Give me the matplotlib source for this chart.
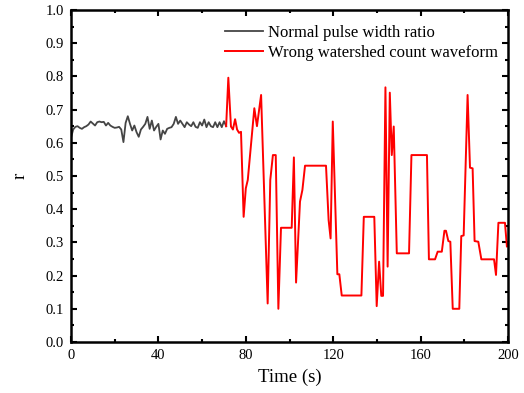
import matplotlib
matplotlib.use("Agg")
import matplotlib.pyplot as plt
from matplotlib.ticker import MultipleLocator, FormatStrFormatter

# normal pulse width ratio, one sample per second (0..71 s)
normal_t = list(range(0, 72))
normal_r = [0.615, 0.640, 0.648, 0.650, 0.645, 0.642, 0.647, 0.650, 0.655, 0.664,
            0.658, 0.652, 0.662, 0.664, 0.662, 0.663, 0.652, 0.660, 0.652, 0.648,
            0.645, 0.646, 0.648, 0.640, 0.602, 0.660, 0.680, 0.657, 0.637, 0.652,
            0.632, 0.618, 0.640, 0.648, 0.657, 0.678, 0.642, 0.667, 0.637, 0.648,
            0.657, 0.610, 0.637, 0.627, 0.642, 0.645, 0.647, 0.657, 0.678, 0.657,
            0.667, 0.657, 0.647, 0.662, 0.655, 0.650, 0.662, 0.648, 0.645, 0.662,
            0.652, 0.670, 0.647, 0.662, 0.650, 0.647, 0.662, 0.647, 0.662, 0.647,
            0.665, 0.650]

# wrong watershed count waveform
wrong_t = [71, 72, 73.2, 74.1, 75.1, 76, 76.9, 77.8, 79, 80, 80.9, 83.9, 85.1, 87,
           90, 91.2, 92.4, 93.7, 94.9, 96.1, 101, 102, 103, 104.8, 105.9, 107.1,
           116.7, 117.9, 118.8, 119.8, 121.9, 122.8, 123.9, 132.9, 134, 138.8,
           139.9, 141, 142, 142.8, 143.9, 144.9, 145.9, 146.8, 147.7, 149.1,
           154.7, 155.8, 162.9, 163.8, 166.6, 167.8, 169.7, 170.9, 171.6, 172.7,
           173.6, 174.7, 177.7, 178.6, 179.7, 181.5, 182.6, 183.8, 184.7, 186.4,
           187.8, 193.6, 194.5, 195.6, 198.6, 199.5, 200]
wrong_r = [0.650, 0.796, 0.649, 0.640, 0.671, 0.640, 0.630, 0.633, 0.377, 0.463,
           0.488, 0.704, 0.650, 0.744, 0.116, 0.488, 0.563, 0.563, 0.100, 0.344,
           0.344, 0.556, 0.179, 0.423, 0.458, 0.531, 0.531, 0.367, 0.312, 0.664,
           0.204, 0.204, 0.140, 0.140, 0.377, 0.377, 0.108, 0.242, 0.139, 0.139,
           0.767, 0.227, 0.751, 0.563, 0.649, 0.267, 0.267, 0.563, 0.563, 0.249,
           0.249, 0.272, 0.272, 0.335, 0.335, 0.304, 0.302, 0.100, 0.100, 0.319,
           0.321, 0.744, 0.525, 0.523, 0.304, 0.302, 0.249, 0.249, 0.202, 0.359,
           0.359, 0.287, 0.300]

plt.rcParams['font.family'] = ['Liberation Serif', 'DejaVu Serif']

fig = plt.figure(figsize=(5.24, 3.93), dpi=100)
ax = fig.add_axes([0.1355, 0.1298, 0.834, 0.8448])

ax.plot(normal_t, normal_r, color='#454545', lw=1.3, label='Normal pulse width ratio')
ax.plot(wrong_t, wrong_r, color='#ff0000', lw=1.4, label='Wrong watershed count waveform')

ax.set_xlim(0, 200)
ax.set_ylim(0, 1.0)
ax.xaxis.set_major_locator(MultipleLocator(40))
ax.xaxis.set_minor_locator(MultipleLocator(20))
ax.yaxis.set_major_locator(MultipleLocator(0.1))
ax.yaxis.set_minor_locator(MultipleLocator(0.05))
ax.yaxis.set_major_formatter(FormatStrFormatter('%.1f'))

ax.tick_params(which='both', direction='in', top=True, right=True, width=1.5,
               labelsize=10.5)
ax.tick_params(which='major', length=4.5, pad=5)
ax.tick_params(which='minor', length=2.5)
for sp in ax.spines.values():
    sp.set_linewidth(1.8)

ax.set_xlabel('Time (s)', fontsize=13.5, labelpad=5)
ax.set_ylabel('r', fontsize=13.5, labelpad=12)

ax.legend(loc='upper right', bbox_to_anchor=(1.012, 1.0), frameon=False,
          fontsize=12, handlelength=2.3, handletextpad=0.3, labelspacing=0.25)

fig.savefig('out.png', dpi=100)
